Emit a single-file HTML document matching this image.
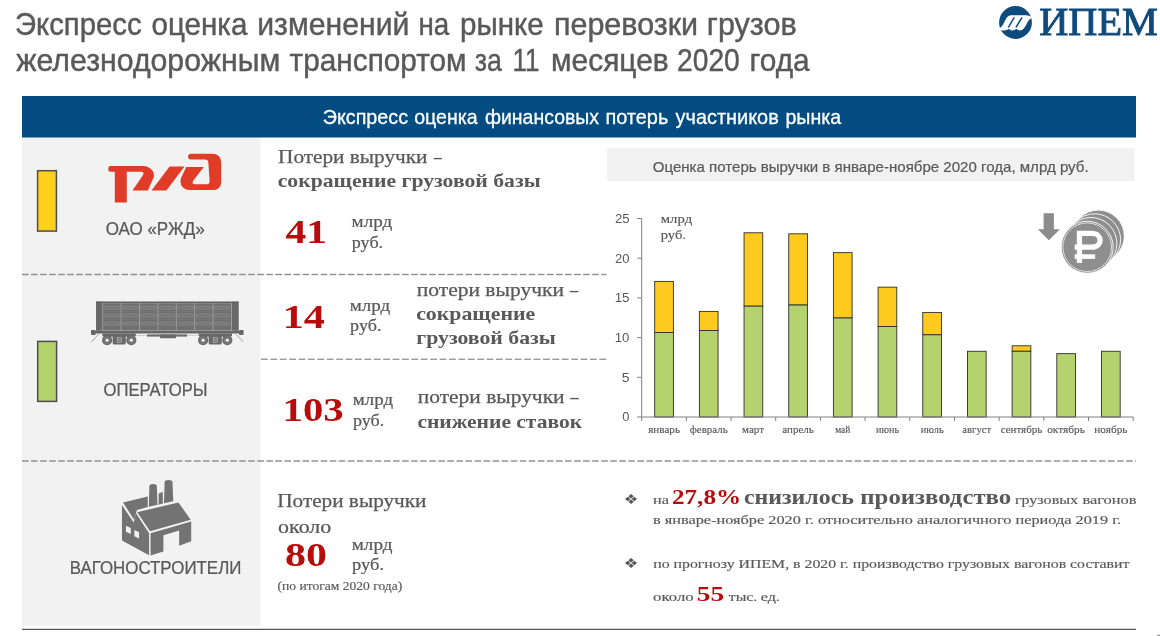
<!DOCTYPE html>
<html lang="ru">
<head>
<meta charset="utf-8">
<title>Экспресс оценка изменений на рынке перевозки грузов</title>
<style>
html,body{margin:0;padding:0;background:#fff;}
body{width:1160px;height:636px;overflow:hidden;}
svg{display:block;}
text{white-space:pre;}
</style>
</head>
<body>
<svg width="1160" height="636" viewBox="0 0 1160 636">
<rect x="22" y="137" width="238.5" height="489" fill="#f2f2f2"/>
<rect x="22" y="96" width="1114" height="41.5" fill="#024c82"/>
<rect x="607.2" y="148.2" width="527.3" height="32.8" fill="#f1f1f1"/>
<line x1="22" y1="274.6" x2="606.5" y2="274.6" stroke="#929292" stroke-width="1.5" stroke-dasharray="6.6 2.45"/>
<line x1="261" y1="359.2" x2="607" y2="359.2" stroke="#707070" stroke-width="1" stroke-dasharray="6.8 2.6"/>
<line x1="22" y1="460.9" x2="1136" y2="460.9" stroke="#929292" stroke-width="1.5" stroke-dasharray="6.6 2.45"/>
<line x1="22" y1="629.4" x2="1136" y2="629.4" stroke="#555" stroke-width="1.4"/>
<rect x="37.6" y="170.7" width="18.8" height="60.4" fill="#ffd11c" stroke="#4d4d4d" stroke-width="1.5"/>
<rect x="37.7" y="341.4" width="18.9" height="60" fill="#b4d26a" stroke="#4d4d4d" stroke-width="1.5"/>
<rect x="654.69" y="281.38" width="18.70" height="51.13" fill="#fdca1d" stroke="#2e2e2e" stroke-width="0.9"/>
<rect x="654.69" y="332.52" width="18.70" height="84.48" fill="#b4d26d" stroke="#2e2e2e" stroke-width="0.9"/>
<rect x="699.37" y="311.40" width="18.70" height="19.06" fill="#fdca1d" stroke="#2e2e2e" stroke-width="0.9"/>
<rect x="699.37" y="330.45" width="18.70" height="86.55" fill="#b4d26d" stroke="#2e2e2e" stroke-width="0.9"/>
<rect x="744.05" y="232.79" width="18.70" height="73.37" fill="#fdca1d" stroke="#2e2e2e" stroke-width="0.9"/>
<rect x="744.05" y="306.16" width="18.70" height="110.84" fill="#b4d26d" stroke="#2e2e2e" stroke-width="0.9"/>
<rect x="788.73" y="233.82" width="18.70" height="71.22" fill="#fdca1d" stroke="#2e2e2e" stroke-width="0.9"/>
<rect x="788.73" y="305.05" width="18.70" height="111.95" fill="#b4d26d" stroke="#2e2e2e" stroke-width="0.9"/>
<rect x="833.41" y="252.64" width="18.70" height="65.35" fill="#fdca1d" stroke="#2e2e2e" stroke-width="0.9"/>
<rect x="833.41" y="317.99" width="18.70" height="99.01" fill="#b4d26d" stroke="#2e2e2e" stroke-width="0.9"/>
<rect x="878.09" y="287.18" width="18.70" height="39.30" fill="#fdca1d" stroke="#2e2e2e" stroke-width="0.9"/>
<rect x="878.09" y="326.48" width="18.70" height="90.52" fill="#b4d26d" stroke="#2e2e2e" stroke-width="0.9"/>
<rect x="922.77" y="312.43" width="18.70" height="22.39" fill="#fdca1d" stroke="#2e2e2e" stroke-width="0.9"/>
<rect x="922.77" y="334.82" width="18.70" height="82.18" fill="#b4d26d" stroke="#2e2e2e" stroke-width="0.9"/>
<rect x="967.45" y="351.26" width="18.70" height="65.74" fill="#b4d26d" stroke="#2e2e2e" stroke-width="0.9"/>
<rect x="1012.13" y="345.78" width="18.70" height="5.48" fill="#fdca1d" stroke="#2e2e2e" stroke-width="0.9"/>
<rect x="1012.13" y="351.26" width="18.70" height="65.74" fill="#b4d26d" stroke="#2e2e2e" stroke-width="0.9"/>
<rect x="1056.81" y="353.64" width="18.70" height="63.36" fill="#b4d26d" stroke="#2e2e2e" stroke-width="0.9"/>
<rect x="1101.49" y="351.26" width="18.70" height="65.74" fill="#b4d26d" stroke="#2e2e2e" stroke-width="0.9"/>
<g stroke="#808080" stroke-width="1" fill="none">
<line x1="641.70" y1="218.50" x2="641.70" y2="421.00"/>
<line x1="637.10" y1="417.00" x2="1133.18" y2="417.00"/>
<line x1="637.10" y1="377.30" x2="641.70" y2="377.30"/>
<line x1="637.10" y1="337.60" x2="641.70" y2="337.60"/>
<line x1="637.10" y1="297.90" x2="641.70" y2="297.90"/>
<line x1="637.10" y1="258.20" x2="641.70" y2="258.20"/>
<line x1="637.10" y1="218.50" x2="641.70" y2="218.50"/>
<line x1="686.38" y1="417.00" x2="686.38" y2="421.00"/>
<line x1="731.06" y1="417.00" x2="731.06" y2="421.00"/>
<line x1="775.74" y1="417.00" x2="775.74" y2="421.00"/>
<line x1="820.42" y1="417.00" x2="820.42" y2="421.00"/>
<line x1="865.10" y1="417.00" x2="865.10" y2="421.00"/>
<line x1="909.78" y1="417.00" x2="909.78" y2="421.00"/>
<line x1="954.46" y1="417.00" x2="954.46" y2="421.00"/>
<line x1="999.14" y1="417.00" x2="999.14" y2="421.00"/>
<line x1="1043.82" y1="417.00" x2="1043.82" y2="421.00"/>
<line x1="1088.50" y1="417.00" x2="1088.50" y2="421.00"/>
<line x1="1133.18" y1="417.00" x2="1133.18" y2="421.00"/>
</g>
<!-- IPEM logo mark -->
<g id="ipem-mark">
<circle cx="1015.5" cy="22.5" r="16.4" fill="#0f4a7c"/>
<g transform="translate(996,4) scale(0.05979)">
<path d="M56,402 C135,392 150,198 240,190 L500,188 C540,188 562,206 596,210 L588,242 C520,252 500,442 400,442 C372,442 352,428 340,416 C322,440 292,442 270,442 C242,442 226,428 215,416 C196,440 162,442 140,442 C110,442 92,434 66,440 Z" fill="#ffffff"/>
<path d="M300,234 L212,384 M430,234 L338,384" stroke="#0f4a7c" stroke-width="25" stroke-linecap="round" fill="none"/>
</g>
</g>
<!-- RZD logo -->
<g id="rzd-logo" fill="#e03c28">
<path d="M108.3,168.2 Q108.3,165.9 110.6,165.9 L143.4,165.9 C149.6,166.1 154.6,170.6 154,176.4 L147.9,190.4 L132.5,190.4 L142.9,175.2 C144.2,173.2 143.4,171.8 141.2,171.8 L126.8,171.8 L126.8,202.5 L114.8,202.5 L114.8,171.8 L110.6,171.8 Q108.3,171.8 108.3,169.5 Z"/>
<path d="M151.5,190.4 L166.4,190.4 L184.5,166.5 L169.6,166.5 Z"/>
<path d="M190.6,153.8 L211.8,153.8 C218,153.8 221.2,157 221.2,163.2 L221.2,181.2 C221.2,187.4 218,190.1 211.8,190.1 L190,190.1 C183.5,190.1 179,185 181,178 L186.3,167 L203.8,167 L193.2,180.7 C191.8,182.7 192.8,184.3 195.3,184.3 L206.5,184.3 C208.6,184.3 209.6,183.3 209.6,181.2 L208.4,162.8 C208.2,160.6 207.2,159.6 205,159.6 L190.8,159.6 C187.2,159.6 187.2,153.8 190.6,153.8 Z"/>
</g>
<!-- wagon -->
<g id="wagon">
<rect x="96" y="301.8" width="142.5" height="28.8" fill="#707070"/>
<rect x="96" y="301.8" width="6.4" height="28.8" fill="#686868"/><rect x="232" y="301.8" width="6.5" height="28.8" fill="#686868"/>
<rect x="96" y="301.6" width="142.5" height="1.3" fill="#5e5e5e"/>
<path d="M102.6,303.3 H232" stroke="#9c9c9c" stroke-width="0.5" fill="none"/>
<g stroke="#b4b4b4" stroke-width="0.7" fill="none">
<path d="M102.7,303 V330.4 M121.1,303 V330.4 M139.5,303 V330.4 M157.9,303 V330.4 M176.3,303 V330.4 M194.7,303 V330.4 M213.1,303 V330.4 M231.5,303 V330.4"/>
</g>
<path d="M102.7,311.6 H231.5 M102.7,319.6 H231.5" stroke="#7e7e7e" stroke-width="0.5" fill="none"/>
<g stroke="#a2a2a2" stroke-width="0.55" fill="none">
<rect x="104.3" y="306.4" width="15.2" height="2.6" rx="1.3"/>
<rect x="104.3" y="314.2" width="15.2" height="2.6" rx="1.3"/>
<rect x="104.3" y="322.3" width="15.2" height="2.6" rx="1.3"/>
<rect x="122.7" y="306.4" width="15.2" height="2.6" rx="1.3"/>
<rect x="122.7" y="314.2" width="15.2" height="2.6" rx="1.3"/>
<rect x="122.7" y="322.3" width="15.2" height="2.6" rx="1.3"/>
<rect x="141.1" y="306.4" width="15.2" height="2.6" rx="1.3"/>
<rect x="141.1" y="314.2" width="15.2" height="2.6" rx="1.3"/>
<rect x="141.1" y="322.3" width="15.2" height="2.6" rx="1.3"/>
<rect x="159.5" y="306.4" width="15.2" height="2.6" rx="1.3"/>
<rect x="159.5" y="314.2" width="15.2" height="2.6" rx="1.3"/>
<rect x="159.5" y="322.3" width="15.2" height="2.6" rx="1.3"/>
<rect x="177.9" y="306.4" width="15.2" height="2.6" rx="1.3"/>
<rect x="177.9" y="314.2" width="15.2" height="2.6" rx="1.3"/>
<rect x="177.9" y="322.3" width="15.2" height="2.6" rx="1.3"/>
<rect x="196.3" y="306.4" width="15.2" height="2.6" rx="1.3"/>
<rect x="196.3" y="314.2" width="15.2" height="2.6" rx="1.3"/>
<rect x="196.3" y="322.3" width="15.2" height="2.6" rx="1.3"/>
<rect x="214.7" y="306.4" width="15.2" height="2.6" rx="1.3"/>
<rect x="214.7" y="314.2" width="15.2" height="2.6" rx="1.3"/>
<rect x="214.7" y="322.3" width="15.2" height="2.6" rx="1.3"/>
</g>
<path d="M100,330.5 H235" stroke="#a8a8a8" stroke-width="0.5" fill="none"/>
<rect x="95" y="330.8" width="144.5" height="2.7" fill="#666"/>
<rect x="91" y="330" width="4.6" height="5" rx="0.8" fill="#666"/><rect x="239" y="330" width="4.6" height="5" rx="0.8" fill="#666"/>
<path d="M98.6,334.2 L91.4,341.9 M236,334.2 L243.2,341.9" stroke="#6e6e6e" stroke-width="0.6" fill="none"/>
<rect x="102.4" y="333.4" width="33.4" height="2.8" fill="#686868"/><rect x="198.6" y="333.4" width="33.4" height="2.8" fill="#686868"/>
<path d="M136,335.4 H147" stroke="#c4c4c4" stroke-width="0.8" fill="none"/><path d="M187,335.4 H198" stroke="#c4c4c4" stroke-width="0.8" fill="none"/>
<rect x="147" y="334.4" width="40" height="2.2" fill="#6c6c6c"/>
<rect x="160" y="334.4" width="16" height="3.8" rx="1" fill="#696969"/>
<g fill="#696969">
<circle cx="107.1" cy="340.2" r="5.1"/><circle cx="131.3" cy="340.2" r="5.1"/><circle cx="203.1" cy="340.2" r="5.1"/><circle cx="227.3" cy="340.2" r="5.1"/>
<rect x="112.6" y="336" width="13.2" height="8.4" rx="1.5"/><rect x="208.6" y="336" width="13.2" height="8.4" rx="1.5"/><rect x="106" y="334.6" width="26.4" height="2.2"/><rect x="202" y="334.6" width="26.4" height="2.2"/>
</g>
<g fill="none" stroke="#9a9a9a" stroke-width="0.45">
<circle cx="107.1" cy="340.2" r="3.3"/><circle cx="131.3" cy="340.2" r="3.3"/><circle cx="203.1" cy="340.2" r="3.3"/><circle cx="227.3" cy="340.2" r="3.3"/>
</g>
<g fill="#f4f4f4">
<circle cx="107.1" cy="340.2" r="1.6"/><circle cx="131.3" cy="340.2" r="1.6"/><circle cx="203.1" cy="340.2" r="1.6"/><circle cx="227.3" cy="340.2" r="1.6"/>
</g>
<g fill="none" stroke="#c8c8c8" stroke-width="0.5">
<rect x="117.2" y="337.4" width="4.2" height="5.2"/><rect x="213.2" y="337.4" width="4.2" height="5.2"/>
<path d="M117.2,339.2 H121.4 M117.2,340.9 H121.4 M213.2,339.2 H217.4 M213.2,340.9 H217.4"/>
</g>
</g>
<!-- factory -->
<g id="factory" transform="translate(115,475) scale(0.13369)" fill="#737373">
<path d="M52,225 L140,355 L157,287 L255,435 L255,600 L52,490 Z"/>
<path d="M82,380 L118,396 L118,441 L82,425 Z M145,412 L180,428 L180,475 L145,458 Z" fill="#f2f2f2"/>
<path d="M60,206 L245,160 L245,240 L164,262 L143,335 Z"/>
<path d="M166,278 L475,205 L566,335 L262,420 Z"/>
<path d="M266,436 L570,348 L570,496 L480,530 L480,415 L362,450 L362,572 L266,602 Z"/>
<path d="M253,238 L257,85 Q258,68 285,68 Q312,68 313,85 L318,222 Z"/>
<path d="M366,212 L371,54 Q372,37 400,37 Q428,37 430,54 L436,196 Z"/>
<path d="M326,222 L327,138 L357,126 L358,214 Z"/>
</g>
<!-- coins + arrow -->
<g id="coins">
<path d="M1043.6,213.2 H1053.9 V229.2 H1059.9 L1048.9,240.3 L1037.8,229.2 H1043.6 Z" fill="#8c8c8c"/>
<g fill="#8e8e8e" stroke="#ffffff" stroke-width="0.9">
<circle cx="1098.3" cy="236.1" r="26"/>
<circle cx="1094.6" cy="239.8" r="26"/>
<circle cx="1090.9" cy="243.5" r="26"/>
<circle cx="1087.2" cy="247.2" r="26"/>
</g>
<circle cx="1087.2" cy="247.2" r="24.3" fill="none" stroke="#ffffff" stroke-width="0.7"/>
<g transform="translate(1030,200) scale(0.12579)" fill="none" stroke="#ffffff">
<path d="M393,500 V266 H490 C580,266 580,375 490,375 H355" stroke-width="42"/>
<path d="M355,450 H518" stroke-width="36"/>
</g>
</g>

<rect x="1157.3" y="634.8" width="2.7" height="1.2" fill="#8a8a8a"/>

<text id="t1_0" x="14.91" y="35.10" font-family="'Liberation Sans', sans-serif" font-size="32" font-weight="normal" fill="#595959" stroke="#595959" stroke-width="0.45" textLength="126.74" lengthAdjust="spacingAndGlyphs">Экспресс</text>
<text id="t1_1" x="151.51" y="35.10" font-family="'Liberation Sans', sans-serif" font-size="32" font-weight="normal" fill="#595959" stroke="#595959" stroke-width="0.45" textLength="95.92" lengthAdjust="spacingAndGlyphs">оценка</text>
<text id="t1_2" x="257.25" y="35.10" font-family="'Liberation Sans', sans-serif" font-size="32" font-weight="normal" fill="#595959" stroke="#595959" stroke-width="0.45" textLength="152.17" lengthAdjust="spacingAndGlyphs">изменений</text>
<text id="t1_3" x="418.39" y="35.10" font-family="'Liberation Sans', sans-serif" font-size="32" font-weight="normal" fill="#595959" stroke="#595959" stroke-width="0.45" textLength="30.78" lengthAdjust="spacingAndGlyphs">на</text>
<text id="t1_4" x="460.01" y="35.10" font-family="'Liberation Sans', sans-serif" font-size="32" font-weight="normal" fill="#595959" stroke="#595959" stroke-width="0.45" textLength="83.65" lengthAdjust="spacingAndGlyphs">рынке</text>
<text id="t1_5" x="553.98" y="35.10" font-family="'Liberation Sans', sans-serif" font-size="32" font-weight="normal" fill="#595959" stroke="#595959" stroke-width="0.45" textLength="144.12" lengthAdjust="spacingAndGlyphs">перевозки</text>
<text id="t1_6" x="706.74" y="35.10" font-family="'Liberation Sans', sans-serif" font-size="32" font-weight="normal" fill="#595959" stroke="#595959" stroke-width="0.45" textLength="89.97" lengthAdjust="spacingAndGlyphs">грузов</text>
<text id="t2_0" x="16.24" y="71.20" font-family="'Liberation Sans', sans-serif" font-size="32" font-weight="normal" fill="#595959" stroke="#595959" stroke-width="0.45" textLength="263.96" lengthAdjust="spacingAndGlyphs">железнодорожным</text>
<text id="t2_1" x="289.54" y="71.20" font-family="'Liberation Sans', sans-serif" font-size="32" font-weight="normal" fill="#595959" stroke="#595959" stroke-width="0.45" textLength="177.03" lengthAdjust="spacingAndGlyphs">транспортом</text>
<text id="t2_2" x="474.70" y="71.20" font-family="'Liberation Sans', sans-serif" font-size="32" font-weight="normal" fill="#595959" stroke="#595959" stroke-width="0.45" textLength="27.17" lengthAdjust="spacingAndGlyphs">за</text>
<text id="t2_3" x="512.54" y="71.20" font-family="'Liberation Sans', sans-serif" font-size="32" font-weight="normal" fill="#595959" stroke="#595959" stroke-width="0.45" textLength="26.98" lengthAdjust="spacingAndGlyphs">11</text>
<text id="t2_4" x="550.99" y="71.20" font-family="'Liberation Sans', sans-serif" font-size="32" font-weight="normal" fill="#595959" stroke="#595959" stroke-width="0.45" textLength="117.68" lengthAdjust="spacingAndGlyphs">месяцев</text>
<text id="t2_5" x="677.00" y="71.20" font-family="'Liberation Sans', sans-serif" font-size="32" font-weight="normal" fill="#595959" stroke="#595959" stroke-width="0.45" textLength="62.76" lengthAdjust="spacingAndGlyphs">2020</text>
<text id="t2_6" x="749.53" y="71.20" font-family="'Liberation Sans', sans-serif" font-size="32" font-weight="normal" fill="#595959" stroke="#595959" stroke-width="0.45" textLength="60.16" lengthAdjust="spacingAndGlyphs">года</text>
<text id="hd_0" x="322.76" y="124.20" font-family="'Liberation Sans', sans-serif" font-size="20.6" font-weight="normal" fill="#ffffff" stroke="#ffffff" stroke-width="0.3" textLength="85.34" lengthAdjust="spacingAndGlyphs">Экспресс</text>
<text id="hd_1" x="414.15" y="124.20" font-family="'Liberation Sans', sans-serif" font-size="20.6" font-weight="normal" fill="#ffffff" stroke="#ffffff" stroke-width="0.3" textLength="63.47" lengthAdjust="spacingAndGlyphs">оценка</text>
<text id="hd_2" x="484.96" y="124.20" font-family="'Liberation Sans', sans-serif" font-size="20.6" font-weight="normal" fill="#ffffff" stroke="#ffffff" stroke-width="0.3" textLength="114.12" lengthAdjust="spacingAndGlyphs">финансовых</text>
<text id="hd_3" x="605.40" y="124.20" font-family="'Liberation Sans', sans-serif" font-size="20.6" font-weight="normal" fill="#ffffff" stroke="#ffffff" stroke-width="0.3" textLength="62.91" lengthAdjust="spacingAndGlyphs">потерь</text>
<text id="hd_4" x="675.56" y="124.20" font-family="'Liberation Sans', sans-serif" font-size="20.6" font-weight="normal" fill="#ffffff" stroke="#ffffff" stroke-width="0.3" textLength="103.19" lengthAdjust="spacingAndGlyphs">участников</text>
<text id="hd_5" x="785.46" y="124.20" font-family="'Liberation Sans', sans-serif" font-size="20.6" font-weight="normal" fill="#ffffff" stroke="#ffffff" stroke-width="0.3" textLength="55.82" lengthAdjust="spacingAndGlyphs">рынка</text>
<text id="ipem" x="1039.20" y="35.40" font-family="'Liberation Serif', serif" font-size="39" font-weight="normal" fill="#0f4a7c" stroke="#0f4a7c" stroke-width="0.9" textLength="118.65" lengthAdjust="spacingAndGlyphs">ИПЕМ</text>
<text id="rzd" x="105.68" y="234.80" font-family="'Liberation Sans', sans-serif" font-size="17.5" font-weight="normal" fill="#595959" stroke="#595959" stroke-width="0.24" textLength="98.92" lengthAdjust="spacingAndGlyphs">ОАО «РЖД»</text>
<text id="oper" x="103.47" y="396.30" font-family="'Liberation Sans', sans-serif" font-size="17.5" font-weight="normal" fill="#595959" stroke="#595959" stroke-width="0.24" textLength="104.02" lengthAdjust="spacingAndGlyphs">ОПЕРАТОРЫ</text>
<text id="vag" x="69.71" y="573.80" font-family="'Liberation Sans', sans-serif" font-size="17.5" font-weight="normal" fill="#595959" stroke="#595959" stroke-width="0.24" textLength="171.68" lengthAdjust="spacingAndGlyphs">ВАГОНОСТРОИТЕЛИ</text>
<text id="r1a" x="278.06" y="162.90" font-family="'Liberation Serif', serif" font-size="19" font-weight="normal" fill="#595959" stroke="#595959" stroke-width="0.25" textLength="149.37" lengthAdjust="spacingAndGlyphs">Потери выручки</text>
<text id="d1" x="433.80" y="162.90" font-family="'Liberation Serif', serif" font-size="19" font-weight="bold" fill="#595959" textLength="8.10" lengthAdjust="spacingAndGlyphs">–</text>
<text id="r1b" x="277.71" y="186.80" font-family="'Liberation Serif', serif" font-size="19" font-weight="bold" fill="#595959" textLength="262.88" lengthAdjust="spacingAndGlyphs">сокращение грузовой базы</text>
<text id="n41" x="285.47" y="242.80" font-family="'Liberation Serif', serif" font-size="34.6" font-weight="bold" fill="#b90b0b" textLength="41.54" lengthAdjust="spacingAndGlyphs">41</text>
<text id="m1a" x="351.58" y="226.90" font-family="'Liberation Serif', serif" font-size="16.2" font-weight="normal" fill="#595959" stroke="#595959" stroke-width="0.21" textLength="40.57" lengthAdjust="spacingAndGlyphs">млрд</text>
<text id="m1b" x="351.79" y="247.50" font-family="'Liberation Serif', serif" font-size="16.2" font-weight="normal" fill="#595959" stroke="#595959" stroke-width="0.21" textLength="31.36" lengthAdjust="spacingAndGlyphs">руб.</text>
<text id="n14" x="282.78" y="327.90" font-family="'Liberation Serif', serif" font-size="34.6" font-weight="bold" fill="#b90b0b" textLength="42.14" lengthAdjust="spacingAndGlyphs">14</text>
<text id="m2a" x="349.79" y="310.70" font-family="'Liberation Serif', serif" font-size="16.2" font-weight="normal" fill="#595959" stroke="#595959" stroke-width="0.21" textLength="40.51" lengthAdjust="spacingAndGlyphs">млрд</text>
<text id="m2b" x="350.11" y="331.00" font-family="'Liberation Serif', serif" font-size="16.2" font-weight="normal" fill="#595959" stroke="#595959" stroke-width="0.21" textLength="31.30" lengthAdjust="spacingAndGlyphs">руб.</text>
<text id="r2a" x="416.82" y="296.30" font-family="'Liberation Serif', serif" font-size="19" font-weight="normal" fill="#595959" stroke="#595959" stroke-width="0.25" textLength="147.14" lengthAdjust="spacingAndGlyphs">потери выручки</text>
<text id="d2" x="569.91" y="296.30" font-family="'Liberation Serif', serif" font-size="19" font-weight="bold" fill="#595959" textLength="8.30" lengthAdjust="spacingAndGlyphs">–</text>
<text id="r2b" x="416.19" y="320.30" font-family="'Liberation Serif', serif" font-size="19" font-weight="bold" fill="#595959" textLength="119.03" lengthAdjust="spacingAndGlyphs">сокращение</text>
<text id="r2c" x="416.32" y="343.90" font-family="'Liberation Serif', serif" font-size="19" font-weight="bold" fill="#595959" textLength="139.51" lengthAdjust="spacingAndGlyphs">грузовой базы</text>
<text id="n103" x="282.57" y="420.70" font-family="'Liberation Serif', serif" font-size="34.6" font-weight="bold" fill="#b90b0b" textLength="61.21" lengthAdjust="spacingAndGlyphs">103</text>
<text id="m3a" x="352.76" y="405.20" font-family="'Liberation Serif', serif" font-size="16.2" font-weight="normal" fill="#595959" stroke="#595959" stroke-width="0.21" textLength="40.34" lengthAdjust="spacingAndGlyphs">млрд</text>
<text id="m3b" x="353.04" y="426.40" font-family="'Liberation Serif', serif" font-size="16.2" font-weight="normal" fill="#595959" stroke="#595959" stroke-width="0.21" textLength="31.26" lengthAdjust="spacingAndGlyphs">руб.</text>
<text id="r3a" x="417.82" y="403.30" font-family="'Liberation Serif', serif" font-size="19" font-weight="normal" fill="#595959" stroke="#595959" stroke-width="0.25" textLength="146.73" lengthAdjust="spacingAndGlyphs">потери выручки</text>
<text id="d3" x="570.30" y="403.30" font-family="'Liberation Serif', serif" font-size="19" font-weight="bold" fill="#595959" textLength="8.50" lengthAdjust="spacingAndGlyphs">–</text>
<text id="r3b" x="417.40" y="427.70" font-family="'Liberation Serif', serif" font-size="19" font-weight="bold" fill="#595959" textLength="164.71" lengthAdjust="spacingAndGlyphs">снижение ставок</text>
<text id="r4a" x="277.26" y="507.10" font-family="'Liberation Serif', serif" font-size="19" font-weight="normal" fill="#595959" stroke="#595959" stroke-width="0.25" textLength="149.18" lengthAdjust="spacingAndGlyphs">Потери выручки</text>
<text id="r4b" x="278.11" y="532.80" font-family="'Liberation Serif', serif" font-size="18.7" font-weight="normal" fill="#595959" stroke="#595959" stroke-width="0.24" textLength="53.22" lengthAdjust="spacingAndGlyphs">около</text>
<text id="n80" x="285.02" y="566.00" font-family="'Liberation Serif', serif" font-size="34.6" font-weight="bold" fill="#b90b0b" textLength="41.97" lengthAdjust="spacingAndGlyphs">80</text>
<text id="m4a" x="351.78" y="550.10" font-family="'Liberation Serif', serif" font-size="16.2" font-weight="normal" fill="#595959" stroke="#595959" stroke-width="0.21" textLength="40.68" lengthAdjust="spacingAndGlyphs">млрд</text>
<text id="m4b" x="352.07" y="570.00" font-family="'Liberation Serif', serif" font-size="16.2" font-weight="normal" fill="#595959" stroke="#595959" stroke-width="0.21" textLength="32.03" lengthAdjust="spacingAndGlyphs">руб.</text>
<text id="r4c" x="277.55" y="589.90" font-family="'Liberation Serif', serif" font-size="12" font-weight="normal" fill="#595959" stroke="#595959" stroke-width="0.16" textLength="124.73" lengthAdjust="spacingAndGlyphs">(по итогам 2020 года)</text>
<text id="cu1" x="660.77" y="222.60" font-family="'Liberation Serif', serif" font-size="13.3" font-weight="normal" fill="#595959" stroke="#595959" stroke-width="0.17" textLength="31.37" lengthAdjust="spacingAndGlyphs">млрд</text>
<text id="cu2" x="660.74" y="239.40" font-family="'Liberation Serif', serif" font-size="13.3" font-weight="normal" fill="#595959" stroke="#595959" stroke-width="0.17" textLength="25.24" lengthAdjust="spacingAndGlyphs">руб.</text>
<text id="b1" x="623.67" y="503.80" font-family="'DejaVu Sans', sans-serif" font-size="13.6" font-weight="normal" fill="#595959" textLength="14.58" lengthAdjust="spacingAndGlyphs">❖</text>
<text id="b2" x="623.67" y="568.30" font-family="'DejaVu Sans', sans-serif" font-size="13.6" font-weight="normal" fill="#595959" textLength="14.58" lengthAdjust="spacingAndGlyphs">❖</text>
<text id="p1a" x="653.10" y="503.70" font-family="'Liberation Serif', serif" font-size="13.4" font-weight="normal" fill="#595959" stroke="#595959" stroke-width="0.17" textLength="15.97" lengthAdjust="spacingAndGlyphs">на</text>
<text id="p1b" x="672.00" y="503.70" font-family="'Liberation Serif', serif" font-size="21.5" font-weight="bold" fill="#b90b0b" textLength="69.09" lengthAdjust="spacingAndGlyphs">27,8%</text>
<text id="p1c0" x="743.95" y="503.70" font-family="'Liberation Serif', serif" font-size="21.5" font-weight="bold" fill="#595959" textLength="109.95" lengthAdjust="spacingAndGlyphs">снизилось</text>
<text id="p1c1" x="860.35" y="503.70" font-family="'Liberation Serif', serif" font-size="21.5" font-weight="bold" fill="#595959" textLength="150.82" lengthAdjust="spacingAndGlyphs">производство</text>
<text id="p1d0" x="1014.91" y="503.70" font-family="'Liberation Serif', serif" font-size="13.4" font-weight="normal" fill="#595959" stroke="#595959" stroke-width="0.17" textLength="63.19" lengthAdjust="spacingAndGlyphs">грузовых</text>
<text id="p1d1" x="1082.49" y="503.70" font-family="'Liberation Serif', serif" font-size="13.4" font-weight="normal" fill="#595959" stroke="#595959" stroke-width="0.17" textLength="54.10" lengthAdjust="spacingAndGlyphs">вагонов</text>
<text id="p2" x="653.05" y="523.70" font-family="'Liberation Serif', serif" font-size="13.4" font-weight="normal" fill="#595959" stroke="#595959" stroke-width="0.17" textLength="468.02" lengthAdjust="spacingAndGlyphs">в январе-ноябре 2020 г. относительно аналогичного периода 2019 г.</text>
<text id="p3" x="653.22" y="567.90" font-family="'Liberation Serif', serif" font-size="13.4" font-weight="normal" fill="#595959" stroke="#595959" stroke-width="0.17" textLength="476.21" lengthAdjust="spacingAndGlyphs">по прогнозу ИПЕМ, в 2020 г. производство грузовых вагонов составит</text>
<text id="ct" x="652.78" y="171.70" font-family="'Liberation Sans', sans-serif" font-size="14.4" font-weight="normal" fill="#595959" stroke="#595959" stroke-width="0.2" textLength="435.83" lengthAdjust="spacingAndGlyphs">Оценка потерь выручки в январе-ноябре 2020 года, млрд руб.</text>
<text id="p4a" x="653.13" y="601.00" font-family="'Liberation Serif', serif" font-size="13.4" font-weight="normal" fill="#595959" stroke="#595959" stroke-width="0.17" textLength="40.50" lengthAdjust="spacingAndGlyphs">около</text>
<text id="p4b" x="696.76" y="601.00" font-family="'Liberation Serif', serif" font-size="21.5" font-weight="bold" fill="#b90b0b" textLength="27.35" lengthAdjust="spacingAndGlyphs">55</text>
<text id="p4c0" x="728.75" y="601.00" font-family="'Liberation Serif', serif" font-size="13.4" font-weight="normal" fill="#595959" stroke="#595959" stroke-width="0.17" textLength="28.52" lengthAdjust="spacingAndGlyphs">тыс.</text>
<text id="p4c1" x="760.74" y="601.00" font-family="'Liberation Serif', serif" font-size="13.4" font-weight="normal" fill="#595959" stroke="#595959" stroke-width="0.17" textLength="19.17" lengthAdjust="spacingAndGlyphs">ед.</text>
<text id="ya0" x="622.25" y="421.40" font-family="'Liberation Sans', sans-serif" font-size="12" font-weight="normal" fill="#595959" textLength="7.19" lengthAdjust="spacingAndGlyphs">0</text>
<text id="ya5" x="621.81" y="381.70" font-family="'Liberation Sans', sans-serif" font-size="12" font-weight="normal" fill="#595959" textLength="7.75" lengthAdjust="spacingAndGlyphs">5</text>
<text id="ya10" x="614.66" y="342.00" font-family="'Liberation Sans', sans-serif" font-size="12" font-weight="normal" fill="#595959" textLength="14.74" lengthAdjust="spacingAndGlyphs">10</text>
<text id="ya15" x="614.65" y="302.30" font-family="'Liberation Sans', sans-serif" font-size="12" font-weight="normal" fill="#595959" textLength="14.90" lengthAdjust="spacingAndGlyphs">15</text>
<text id="ya20" x="615.02" y="262.60" font-family="'Liberation Sans', sans-serif" font-size="12" font-weight="normal" fill="#595959" textLength="14.56" lengthAdjust="spacingAndGlyphs">20</text>
<text id="ya25" x="615.02" y="222.90" font-family="'Liberation Sans', sans-serif" font-size="12" font-weight="normal" fill="#595959" textLength="14.67" lengthAdjust="spacingAndGlyphs">25</text>
<text id="mo0" x="648.24" y="432.70" font-family="'Liberation Serif', serif" font-size="10.5" font-weight="normal" fill="#595959" stroke="#595959" stroke-width="0.14" textLength="31.74" lengthAdjust="spacingAndGlyphs">январь</text>
<text id="mo1" x="689.80" y="432.70" font-family="'Liberation Serif', serif" font-size="10.5" font-weight="normal" fill="#595959" stroke="#595959" stroke-width="0.14" textLength="37.90" lengthAdjust="spacingAndGlyphs">февраль</text>
<text id="mo2" x="742.12" y="432.70" font-family="'Liberation Serif', serif" font-size="10.5" font-weight="normal" fill="#595959" stroke="#595959" stroke-width="0.14" textLength="21.91" lengthAdjust="spacingAndGlyphs">март</text>
<text id="mo3" x="782.25" y="432.70" font-family="'Liberation Serif', serif" font-size="10.5" font-weight="normal" fill="#595959" stroke="#595959" stroke-width="0.14" textLength="31.58" lengthAdjust="spacingAndGlyphs">апрель</text>
<text id="mo4" x="835.20" y="432.70" font-family="'Liberation Serif', serif" font-size="10.5" font-weight="normal" fill="#595959" stroke="#595959" stroke-width="0.14" textLength="15.14" lengthAdjust="spacingAndGlyphs">май</text>
<text id="mo5" x="876.04" y="432.70" font-family="'Liberation Serif', serif" font-size="10.5" font-weight="normal" fill="#595959" stroke="#595959" stroke-width="0.14" textLength="22.97" lengthAdjust="spacingAndGlyphs">июнь</text>
<text id="mo6" x="920.80" y="432.70" font-family="'Liberation Serif', serif" font-size="10.5" font-weight="normal" fill="#595959" stroke="#595959" stroke-width="0.14" textLength="22.82" lengthAdjust="spacingAndGlyphs">июль</text>
<text id="mo7" x="962.36" y="432.70" font-family="'Liberation Serif', serif" font-size="10.5" font-weight="normal" fill="#595959" stroke="#595959" stroke-width="0.14" textLength="28.70" lengthAdjust="spacingAndGlyphs">август</text>
<text id="mo8" x="1000.65" y="432.70" font-family="'Liberation Serif', serif" font-size="10.5" font-weight="normal" fill="#595959" stroke="#595959" stroke-width="0.14" textLength="41.62" lengthAdjust="spacingAndGlyphs">сентябрь</text>
<text id="mo9" x="1047.19" y="432.70" font-family="'Liberation Serif', serif" font-size="10.5" font-weight="normal" fill="#595959" stroke="#595959" stroke-width="0.14" textLength="37.78" lengthAdjust="spacingAndGlyphs">октябрь</text>
<text id="mo10" x="1094.34" y="432.70" font-family="'Liberation Serif', serif" font-size="10.5" font-weight="normal" fill="#595959" stroke="#595959" stroke-width="0.14" textLength="33.13" lengthAdjust="spacingAndGlyphs">ноябрь</text>
</svg>
</body>
</html>
